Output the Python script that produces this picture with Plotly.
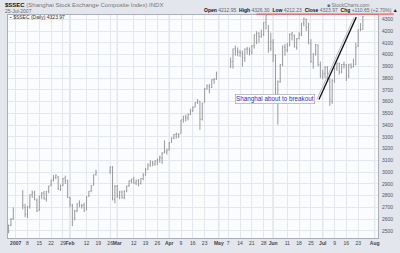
import numpy as np
import pandas as pd
import plotly.graph_objects as go

# ---------------- data ----------------
holidays = ["2007-01-01", "2007-01-02", "2007-01-03",
            "2007-02-19", "2007-02-20", "2007-02-21", "2007-02-22", "2007-02-23",
            "2007-05-01", "2007-05-02", "2007-05-03", "2007-05-04", "2007-05-07"]
first_day = "2006-12-27"
last_day = "2007-07-25"

open_ = [
    # Dec 27-29
    2490, 2550, 2605,
    # Jan
    2728, 2700, 2640, 2710, 2810, 2830, 2760, 2680, 2800, 2820, 2770, 2840,
    2890, 2940, 2955, 2960, 2850, 2890, 2950, 2930,
    # Feb
    2780, 2720, 2600, 2670, 2735, 2710, 2720, 2680, 2795, 2840, 2890, 2980,
    3010, 3045, 2770,
    # Mar
    2880, 2800, 2830, 2780, 2840, 2885, 2925, 2940, 2910, 2925, 2905, 2945,
    2975, 3025, 3060, 3085, 3070, 3095, 3110, 3120, 3165, 3170,
    # Apr
    3190, 3255, 3290, 3320, 3320, 3330, 3450, 3470, 3460, 3490, 3525, 3555,
    3595, 3600, 3450, 3590, 3715, 3730, 3720, 3785, 3790,
    # May
    3900, 3940, 4050, 4030, 4020, 4010, 3970, 4045, 4040, 4010, 4075, 4165,
    4180, 4150, 4170, 4275, 4200, 4050,
    # Jun
    4100, 3990, 3620, 3770, 3915, 4060, 4040, 4075, 4170, 4160, 4060, 4135,
    4170, 4270, 4300, 4230, 4090, 3930, 4005, 4080, 3910,
    # Jul
    3815, 3840, 3890, 3770, 3600, 3780, 3885, 3920, 3850, 3915, 3910, 3815,
    3910, 3895, 3915, 4070, 4215, 4212.95,
]
high = [
    2555, 2610, 2700,
    2847, 2730, 2710, 2810, 2845, 2840, 2775, 2800, 2830, 2840, 2840, 2885,
    2935, 2975, 2980, 2965, 2895, 2950, 2970, 2935,
    2790, 2730, 2680, 2735, 2760, 2730, 2740, 2795, 2840, 2890, 2980, 3020,
    3049, 3050, 2890,
    2890, 2840, 2845, 2845, 2885, 2930, 2945, 2960, 2935, 2940, 2950, 2990,
    3035, 3075, 3100, 3095, 3100, 3115, 3140, 3170, 3270, 3200,
    3255, 3295, 3325, 3335, 3330, 3445, 3480, 3490, 3500, 3540, 3560, 3595,
    3620, 3607, 3590, 3715, 3745, 3750, 3790, 3800, 3855,
    3975, 4050, 4075, 4060, 4040, 4033, 4050, 4065, 4060, 4080, 4170, 4198,
    4190, 4212, 4275, 4335, 4250, 4185,
    4130, 4000, 3780, 3920, 4075, 4090, 4100, 4180, 4190, 4170, 4140, 4190,
    4268, 4312, 4305, 4270, 4130, 4010, 4090, 4085, 3940,
    3870, 3900, 3900, 3800, 3790, 3890, 3930, 3930, 3920, 3940, 3920, 3920,
    3925, 3965, 4100, 4215, 4267, 4326.30,
]
low = [
    2480, 2540, 2595,
    2684, 2617, 2610, 2690, 2780, 2760, 2660, 2670, 2770, 2765, 2750, 2820,
    2880, 2920, 2940, 2850, 2840, 2880, 2900, 2780,
    2700, 2541, 2590, 2660, 2700, 2690, 2660, 2675, 2790, 2830, 2885, 2970,
    2985, 2760, 2735,
    2780, 2770, 2775, 2770, 2830, 2875, 2905, 2900, 2890, 2880, 2895, 2930,
    2970, 3020, 3045, 3050, 3055, 3060, 3080, 3070, 3160, 3150,
    3185, 3250, 3280, 3285, 3290, 3330, 3420, 3430, 3440, 3485, 3510, 3550,
    3580, 3360, 3440, 3590, 3700, 3670, 3715, 3750, 3785,
    3885, 3880, 3990, 3985, 3980, 3896, 3937, 4000, 3992, 4000, 4050, 4088,
    4100, 4143, 4157, 4212, 4015, 4030,
    3937, 3660, 3404, 3760, 3900, 3990, 4020, 4070, 4120, 4060, 4040, 4130,
    4157, 4240, 4200, 4090, 3930, 3880, 3990, 3900, 3800,
    3790, 3800, 3770, 3563, 3580, 3760, 3860, 3830, 3840, 3880, 3775, 3800,
    3880, 3890, 3910, 4065, 4198, 4212.23,
]
close = [
    2545, 2600, 2675,
    2715, 2641, 2707, 2807, 2825, 2770, 2668, 2794, 2821, 2779, 2836, 2882,
    2933, 2950, 2975, 2857, 2885, 2945, 2930, 2786,
    2728, 2612, 2673, 2730, 2715, 2716, 2674, 2792, 2838, 2883, 2978, 2998,
    3041, 2772, 2881,
    2797, 2832, 2785, 2838, 2881, 2926, 2938, 2909, 2930, 2900, 2945, 2975,
    3020, 3060, 3090, 3070, 3095, 3110, 3125, 3160, 3175, 3184,
    3252, 3291, 3319, 3324, 3323, 3444, 3473, 3461, 3489, 3520, 3550, 3590,
    3612, 3449, 3584, 3710, 3736, 3720, 3787, 3790, 3841,
    3937, 4049, 4030, 4021, 4015, 3974, 4049, 4048, 4030, 4072, 4170, 4181,
    4154, 4166, 4272, 4335, 4053, 4110,
    4001, 3670, 3767, 3913, 4072, 4040, 4073, 4171, 4184, 4065, 4132, 4169,
    4268, 4311, 4230, 4091, 3941, 4006, 4085, 3914, 3820,
    3836, 3893, 3777, 3615, 3781, 3883, 3928, 3851, 3916, 3914, 3821, 3916,
    3890, 3912, 4058, 4210, 4213, 4323.97,
]

y_ticks = list(range(2500, 4301, 100))

tick_dates = ["2007-01-01", "2007-01-08", "2007-01-15", "2007-01-22", "2007-01-29",
              "2007-02-01", "2007-02-12", "2007-02-19", "2007-02-26",
              "2007-03-01", "2007-03-12", "2007-03-19", "2007-03-26",
              "2007-04-02", "2007-04-09", "2007-04-16", "2007-04-23",
              "2007-05-01", "2007-05-07", "2007-05-14", "2007-05-21", "2007-05-28",
              "2007-06-01", "2007-06-11", "2007-06-18", "2007-06-25",
              "2007-07-02", "2007-07-09", "2007-07-16", "2007-07-23", "2007-08-01"]
tick_labels = ["<b>2007</b>", "8", "15", "22", "29", "<b>Feb</b>", "12", "19", "26",
               "<b>Mar</b>", "12", "19", "26", "<b>Apr</b>", "9", "16", "23",
               "<b>May</b>", "7", "14", "21", "28", "<b>Jun</b>", "11", "18", "25",
               "<b>Jul</b>", "9", "16", "23", "<b>Aug</b>"]
month_dates = ["2007-02-01", "2007-03-01", "2007-04-02", "2007-05-01",
               "2007-06-01", "2007-07-02", "2007-08-01"]

# ---------------- build ----------------
days = pd.bdate_range(first_day, last_day)
days = days[~days.isin(pd.to_datetime(holidays))]
assert len(days) == len(open_) == len(high) == len(low) == len(close)


def wd(d):
    """weekday index relative to 2007-01-01 (holidays keep their slot)"""
    d = np.atleast_1d(np.array(pd.to_datetime(d).strftime("%Y-%m-%d"), dtype="datetime64[D]"))
    return np.busday_count(np.datetime64("2007-01-01"), d).astype(float)


x = wd(days)
tick_x = wd(tick_dates)
month_x = wd(month_dates)

W, H = 400, 253
L, R, T, B = 7, 19, 15, 8
PW, PH = W - L - R, H - T - B


def px(xp):
    return (xp - L) / PW


def py(yp):
    return (H - B - yp) / PH


fig = go.Figure()
fig.add_trace(go.Ohlc(
    x=x, open=open_, high=high, low=low, close=close,
    increasing=dict(line=dict(color="#8e8e8e", width=0.9)),
    decreasing=dict(line=dict(color="#8e8e8e", width=0.9)),
    tickwidth=0.3, showlegend=False, hoverinfo="skip",
))

shapes = []
for mx in month_x:
    shapes.append(dict(type="line", xref="x", yref="paper", x0=mx, x1=mx, y0=0, y1=1,
                       line=dict(color="#ccd1da", width=1), layer="below"))
# red resistance line across the top
shapes.append(dict(type="line", xref="paper", yref="paper", x0=px(258), x1=px(397),
                   y0=py(14), y1=py(14), line=dict(color="#f06060", width=1.2)))
# trend line (double: light shadow + black)
tl_x0, tl_x1 = wd("2007-06-28")[0] + 0.4, wd("2007-07-20")[0] + 0.2
tl_y0, tl_y1 = 3618, 4318
shapes.append(dict(type="line", xref="x", yref="y", x0=tl_x0 - 0.9, x1=tl_x1 - 0.9,
                   y0=tl_y0, y1=tl_y1, line=dict(color="#bdbdbd", width=1)))
shapes.append(dict(type="line", xref="x", yref="y", x0=tl_x0, x1=tl_x1,
                   y0=tl_y0, y1=tl_y1, line=dict(color="#111111", width=1.3)))

FONT = "Liberation Sans"
ann = []
ann.append(dict(xref="paper", yref="paper", x=px(2), y=py(4.5), xanchor="left", yanchor="middle",
                text="<b>$SSEC</b> <span style='color:#777'>(Shanghai Stock Exchange Composite Index) INDX</span>",
                showarrow=False, font=dict(family=FONT, size=6, color="#111")))
ann.append(dict(xref="paper", yref="paper", x=px(2), y=py(10.5), xanchor="left", yanchor="middle",
                text="25-Jul-2007", showarrow=False, font=dict(family=FONT, size=5, color="#666")))
ann.append(dict(xref="paper", yref="paper", x=px(327), y=py(4.5), xanchor="left", yanchor="middle",
                text="<span style='color:#4a6aa8'>■</span> StockCharts.com", showarrow=False,
                font=dict(family=FONT, size=5, color="#777")))
hdr = ("<b>Open</b> <span style='color:#666'>4212.95</span>  "
       "<b>High</b> <span style='color:#666'>4326.30</span>  "
       "<b>Low</b> <span style='color:#666'>4212.23</span>  "
       "<b>Close</b> <span style='color:#666'>4323.97</span>  "
       "<b>Chg</b> <span style='color:#666'>+110.65 (+2.70%)</span> ▲")
ann.append(dict(xref="paper", yref="paper", x=px(203), y=py(9.8), xanchor="left", yanchor="middle",
                text=hdr, showarrow=False, font=dict(family=FONT, size=5, color="#111")))
ann.append(dict(xref="paper", yref="paper", x=px(7.5), y=py(17.5), xanchor="left", yanchor="middle",
                text="<span style='color:#555'>▪</span> $SSEC (Daily) 4323.97", showarrow=False,
                font=dict(family=FONT, size=5, color="#333")))
ann.append(dict(xref="x", yref="y", x=wd("2007-06-04")[0] - 0.3, y=3622, xanchor="center", yanchor="middle",
                text="Shanghai about to breakout", showarrow=False,
                font=dict(family=FONT, size=6.3, color="#2a2ad0"),
                bgcolor="#ffffff", bordercolor="#9a9a9a", borderwidth=0.6, borderpad=0.5))

fig.update_layout(
    width=W, height=H,
    margin=dict(l=L, r=R, t=T, b=B),
    paper_bgcolor="#e3e6ec",
    plot_bgcolor="#fbfcfe",
    shapes=shapes,
    annotations=ann,
    xaxis=dict(
        range=[-3.25, 153.4], tickmode="array", tickvals=tick_x, ticktext=tick_labels,
        tickangle=0,
        showgrid=True, gridcolor="#e4e7ee", gridwidth=1, zeroline=False,
        showline=True, linecolor="#a9aeb8", mirror=True, ticks="", rangeslider=dict(visible=False),
        tickfont=dict(family=FONT, size=5, color="#444"), ticklabelstandoff=0,
    ),
    yaxis=dict(
        range=[2440, 4336], side="right", tickmode="array", tickvals=y_ticks,
        showgrid=True, gridcolor="#e4e7ee", gridwidth=1, zeroline=False,
        showline=True, linecolor="#a9aeb8", mirror=True, ticks="",
        tickfont=dict(family=FONT, size=5, color="#555"), ticklabelstandoff=2,
    ),
)

fig.write_html("out.html")
